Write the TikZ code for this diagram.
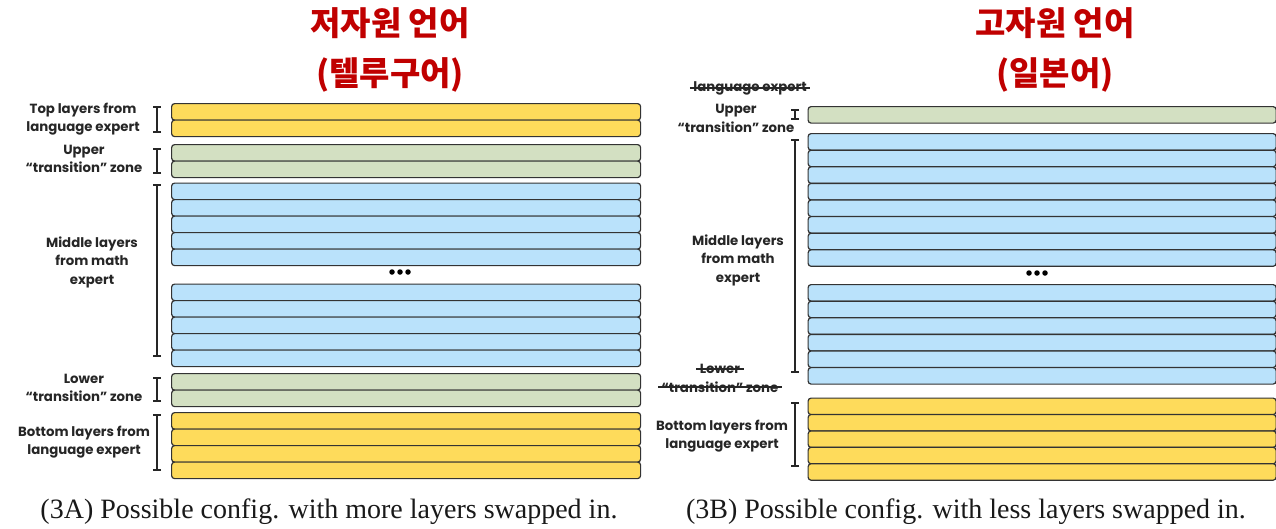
\documentclass[tikz,border=0pt]{standalone}
\usepackage{fontspec}
\setmainfont{Liberation Serif}
\newfontfamily\labfont{Poppins}
\newfontfamily\krfont{Noto Sans CJK KR}
\usetikzlibrary{arrows.meta}
\definecolor{titlered}{HTML}{C00000}
\definecolor{ylw}{HTML}{FEDB5B}
\definecolor{grn}{HTML}{D3E0C2}
\definecolor{blu}{HTML}{BAE2FB}
\definecolor{edge}{HTML}{333333}
\tikzset{
  bar/.style={draw=edge, line width=1.2pt, rounded corners=3pt, inner sep=0pt, anchor=north west, minimum height=16.5pt},
  ybar/.style={bar, fill=ylw},
  gbar/.style={bar, fill=grn},
  bbar/.style={bar, fill=blu},
  lab/.style={font=\labfont\bfseries\fontsize{13.3}{18.5}\selectfont, align=center, text=black!85},
  brk/.style={line width=1.7pt, {Bar[width=8pt]}-{Bar[width=8pt]}, black!85},
  ttl/.style={font=\krfont\bfseries\fontsize{33}{38}\selectfont, text=titlered},
  captext/.style={font=\fontsize{28}{32}\selectfont, text=black!90},
  dot/.style={circle, fill=black, inner sep=0pt, minimum size=5.5pt},
  strike/.style={line width=1.2pt, black!85}
}
\begin{document}
\begin{tikzpicture}[x=1pt,y=-1pt]
\useasboundingbox (0,0) rectangle (1276,528);
% ---------- titles ----------
\node[ttl] (tA1) at (390,23) {저자원 언어};
\node[ttl] (tA2) at (390,75) {(텔루구어)};
\node[ttl] (tB1) at (1055,23) {고자원 언어};
\node[ttl] (tB2) at (1055,75) {(일본어)};
% ---------- left panel bars ----------
\def\LW{469pt}
\foreach \y [count=\i] in {103,119.5} \node[ybar, minimum width=\LW] (LY\i) at (171,\y) {};
\foreach \y [count=\i] in {144,160.5} \node[gbar, minimum width=\LW] (LG\i) at (171,\y) {};
\foreach \y [count=\i] in {182.5,199,215.5,232,248.5} \node[bbar, minimum width=\LW] (LB\i) at (171,\y) {};
\foreach \y [count=\i] in {283.5,300,316.5,333,349.5} \node[bbar, minimum width=\LW] (LC\i) at (171,\y) {};
\foreach \y [count=\i] in {373,389.5} \node[gbar, minimum width=\LW] (LH\i) at (171,\y) {};
\foreach \y [count=\i] in {412,428.5,445,461.5} \node[ybar, minimum width=\LW] (LZ\i) at (171,\y) {};
\node[dot] (ld1) at (392,272) {};
\node[dot] (ld2) at (400,272) {};
\node[dot] (ld3) at (408,272) {};
% brackets left
\coordinate (la1) at (157,106); \coordinate (la2) at (157,133);
\coordinate (lb1) at (157,148); \coordinate (lb2) at (157,174);
\coordinate (lc1) at (157,184); \coordinate (lc2) at (157,357);
\coordinate (ld1c) at (157,377); \coordinate (ld2c) at (157,402);
\coordinate (le1) at (157,414); \coordinate (le2) at (157,471);
\draw[brk] (la1) -- (la2);
\draw[brk] (lb1) -- (lb2);
\draw[brk] (lc1) -- (lc2);
\draw[brk] (ld1c) -- (ld2c);
\draw[brk] (le1) -- (le2);
% labels left
\node[lab] (lt) at (83,119) {Top layers from\\language expert};
\node[lab] (lu) at (84,159) {Upper\\“transition” zone};
\node[lab] (lm) at (92,262) {Middle layers\\from math\\expert};
\node[lab] (ll) at (84,388) {Lower\\“transition” zone};
\node[lab] (lbm) at (84,442) {Bottom layers from\\language expert};
% ---------- right panel bars ----------
\def\RW{468pt}
\node[gbar, minimum width=\RW] (RG1) at (807.5,106) {};
\foreach \y [count=\i] in {133,149.6,166.2,182.8,199.4,216,232.6,249.2} \node[bbar, minimum width=\RW] (RB\i) at (807.5,\y) {};
\foreach \y [count=\i] in {284,300.6,317.2,333.8,350.4,367} \node[bbar, minimum width=\RW] (RC\i) at (807.5,\y) {};
\foreach \y [count=\i] in {397.5,413.9,430.3,446.7,463.1} \node[ybar, minimum width=\RW] (RY\i) at (807.5,\y) {};
\node[dot] (rd1) at (1029,273) {};
\node[dot] (rd2) at (1037,273) {};
\node[dot] (rd3) at (1045,273) {};
% brackets right
\coordinate (ra1) at (795,109); \coordinate (ra2) at (795,120);
\coordinate (rb1) at (795,139); \coordinate (rb2) at (795,373);
\coordinate (rc1) at (795,402); \coordinate (rc2) at (795,467);
\draw[brk] (ra1) -- (ra2);
\draw[brk] (rb1) -- (rb2);
\draw[brk] (rc1) -- (rc2);
% labels right
\node[lab] (rle) at (750,88) {language expert};
\draw[strike] (rle.west) -- (rle.east);
\node[lab] (ru) at (736,118.5) {Upper\\“transition” zone};
\node[lab] (rm) at (738,260) {Middle layers\\from math\\expert};
\node[lab] (rlw) at (720,369) {Lower};
\node[lab] (rlt) at (720,387) {“transition” zone};
\draw[strike] (rlw.west) -- (rlw.east);
\draw[strike] (rlt.west) -- (rlt.east);
\node[lab] (rbm) at (722,436) {Bottom layers from\\language expert};
% ---------- captions ----------
\node[captext] (cA) at (329,512) {(3A) Possible config. with more layers swapped in.};
\node[captext] (cB) at (966,512) {(3B) Possible config. with less layers swapped in.};
\end{tikzpicture}
\end{document}
